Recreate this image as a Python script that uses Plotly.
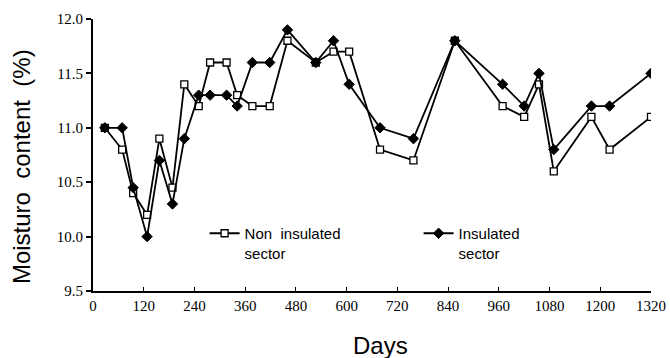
import plotly.graph_objects as go

days = [28, 69, 95, 128, 157, 188, 216, 250, 277, 316, 341, 377, 418, 460, 527,
        569, 606, 679, 758, 856, 969, 1020, 1055, 1090, 1179, 1222, 1320]
non_insulated = [11.0, 10.8, 10.4, 10.2, 10.9, 10.45, 11.4, 11.2, 11.6, 11.6, 11.3, 11.2, 11.2, 11.8,
                 11.6, 11.7, 11.7, 10.8, 10.7, 11.8, 11.2, 11.1, 11.4, 10.6, 11.1, 10.8, 11.1]
insulated = [11.0, 11.0, 10.45, 10.0, 10.7, 10.3, 10.9, 11.3, 11.3, 11.3, 11.2, 11.6, 11.6, 11.9,
             11.6, 11.8, 11.4, 11.0, 10.9, 11.8, 11.4, 11.2, 11.5, 10.8, 11.2, 11.2, 11.5]
x_ticks = [0, 120, 240, 360, 480, 600, 720, 840, 960, 1080, 1200, 1320]
y_ticks = [9.5, 10.0, 10.5, 11.0, 11.5, 12.0]

fig = go.Figure()
fig.add_trace(go.Scatter(
    x=days, y=non_insulated, mode="lines+markers", name="Non  insulated<br>sector",
    line=dict(color="black", width=1.8),
    marker=dict(symbol="square", size=7, color="white", line=dict(color="black", width=1.3)),
))
fig.add_trace(go.Scatter(
    x=days, y=insulated, mode="lines+markers", name="Insulated<br>sector",
    line=dict(color="black", width=1.8),
    marker=dict(symbol="diamond", size=8, color="black", line=dict(color="black", width=1)),
))

fig.update_layout(
    width=670, height=358,
    margin=dict(l=93, r=19, t=19, b=67),
    paper_bgcolor="white", plot_bgcolor="white",
    showlegend=True,
    legend=dict(
        orientation="h", x=0.2, y=0.272, xanchor="left", yanchor="top",
        font=dict(family="Liberation Sans", size=15, color="black"),
        valign="top", entrywidthmode="pixels", entrywidth=169,
        bgcolor="rgba(0,0,0,0)", tracegroupgap=0,
    ),
    xaxis=dict(
        range=[0, 1320], tickvals=x_ticks, ticktext=[str(v) for v in x_ticks],
        showgrid=False, zeroline=False, showline=True, linecolor="black", linewidth=2,
        ticks="inside", ticklen=4, tickcolor="black", tickwidth=1, automargin=False,
        tickfont=dict(family="Liberation Serif", size=15, color="black"),
    ),
    yaxis=dict(
        range=[9.5, 12.0], tickvals=y_ticks, tickformat=".1f",
        showgrid=False, zeroline=False, showline=True, linecolor="black", linewidth=2,
        ticks="outside", ticklen=5, tickcolor="black", tickwidth=1.5, automargin=False,
        tickfont=dict(family="Liberation Serif", size=15, color="black"),
    ),
    annotations=[
        dict(text="Moisturo  content  (%)", textangle=-90, xref="paper", yref="paper",
             x=-0.127, y=0.456, xanchor="center", yanchor="middle", showarrow=False,
             font=dict(family="Liberation Sans", size=24, color="black")),
        dict(text="Days", xref="paper", yref="paper", x=0.516, y=-0.199,
             xanchor="center", yanchor="middle", showarrow=False,
             font=dict(family="Liberation Sans", size=24, color="black")),
    ],
)

# remove the default page margin so the 670x358 figure fills the window exactly
fig.write_html("out.html", config={"displayModeBar": False},
               post_script="document.body.style.margin='0';document.body.style.overflow='hidden';")
